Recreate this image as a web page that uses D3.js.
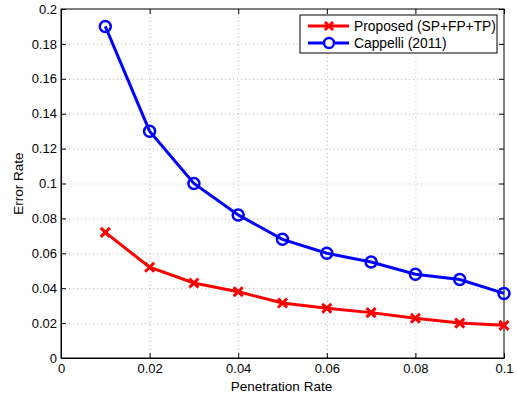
<html>
<head>
<script src="https://d3js.org/d3.v7.min.js"></script>
<style>
  body { margin: 0; background: #fff; }
  text { font-family: "Liberation Sans", Arial, sans-serif; }
  .grid line { stroke: #bbb; stroke-dasharray: 1,3; }
  .grid .domain { stroke: none; }
</style>
</head>
<body>
<svg id="chart" width="517" height="397"></svg>
<script>
const penetration = [0.01, 0.02, 0.03, 0.04, 0.05, 0.06, 0.07, 0.08, 0.09, 0.1];
const proposed = [0.072, 0.052, 0.043, 0.038, 0.0315, 0.0285, 0.026, 0.0228, 0.020, 0.0187];
const cappelli = [0.19, 0.13, 0.10, 0.082, 0.068, 0.060, 0.055, 0.048, 0.045, 0.037];
const xTicks = [0, 0.02, 0.04, 0.06, 0.08, 0.1];
const yTicks = [0, 0.02, 0.04, 0.06, 0.08, 0.1, 0.12, 0.14, 0.16, 0.18, 0.2];
const seriesNames = ["Proposed (SP+FP+TP)", "Cappelli (2011)"];

const svg = d3.select("#chart");
const margin = {top: 9, right: 13, bottom: 39, left: 61};
const w = 517 - margin.left - margin.right;
const h = 397 - margin.top - margin.bottom;

const x = d3.scaleLinear().domain([0, 0.1]).range([0, w]);
const y = d3.scaleLinear().domain([0, 0.2]).range([h, 0]);
const fmt = d => d3.format("")(+d.toFixed(2));

const g = svg.append("g").attr("transform", "translate(" + margin.left + "," + margin.top + ")");

// gridlines
g.append("g").attr("class", "grid")
  .call(d3.axisLeft(y).tickValues(yTicks.slice(1, -1)).tickSize(-w).tickFormat(""));
g.append("g").attr("class", "grid")
  .attr("transform", "translate(0," + h + ")")
  .call(d3.axisBottom(x).tickValues(xTicks.slice(1, -1)).tickSize(-h).tickFormat(""));

// box
g.append("rect").attr("width", w).attr("height", h)
  .attr("fill", "none").attr("stroke", "#000").attr("stroke-width", 1);

// axes with inward ticks
const ax = g.append("g").attr("transform", "translate(0," + h + ")")
  .call(d3.axisBottom(x).tickValues(xTicks).tickSizeInner(-5).tickSizeOuter(0).tickPadding(6).tickFormat(fmt));
const ay = g.append("g")
  .call(d3.axisLeft(y).tickValues(yTicks).tickSizeInner(-5).tickSizeOuter(0).tickPadding(4).tickFormat(fmt));
[ax, ay].forEach(a => {
  a.selectAll("text").attr("font-size", 13).attr("fill", "#000").style("font-family", "Liberation Sans, Arial, sans-serif");
  a.select(".domain").attr("stroke", "#000");
});
// top/right ticks
g.append("g").call(d3.axisTop(x).tickValues(xTicks).tickSizeInner(-5).tickSizeOuter(0).tickFormat(""))
  .select(".domain").remove();
g.append("g").attr("transform", "translate(" + w + ",0)")
  .call(d3.axisRight(y).tickValues(yTicks).tickSizeInner(-5).tickSizeOuter(0).tickFormat(""))
  .select(".domain").remove();

// axis labels
svg.append("text").attr("x", margin.left + w / 2 - 1).attr("y", 391)
  .attr("text-anchor", "middle").attr("font-size", 13.5).text("Penetration Rate");
svg.append("text").attr("transform", "translate(23," + (margin.top + h / 2) + ") rotate(-90)")
  .attr("text-anchor", "middle").attr("font-size", 13.5).text("Error Rate");

const line = d3.line().x((d, i) => x(penetration[i])).y(d => y(d));

// Proposed (red, x markers)
g.append("path").datum(proposed).attr("d", line)
  .attr("fill", "none").attr("stroke", "#f00").attr("stroke-width", 3);
const xMark = (sel, cx, cy, s) => sel.append("path")
  .attr("d", "M" + (cx - s) + "," + (cy - s) + "L" + (cx + s) + "," + (cy + s) + "M" + (cx - s) + "," + (cy + s) + "L" + (cx + s) + "," + (cy - s))
  .attr("stroke", "#f00").attr("stroke-width", 3).attr("fill", "none");
proposed.forEach((d, i) => xMark(g, x(penetration[i]), y(d), 4.5));

// Cappelli (blue, circles)
g.append("path").datum(cappelli).attr("d", line)
  .attr("fill", "none").attr("stroke", "#00f").attr("stroke-width", 3);
g.selectAll("circle.cap").data(cappelli).enter().append("circle")
  .attr("cx", (d, i) => x(penetration[i])).attr("cy", d => y(d)).attr("r", 5.5)
  .attr("fill", "none").attr("stroke", "#00f").attr("stroke-width", 2.5);

// legend
const lg = svg.append("g").attr("transform", "translate(300,15)");
lg.append("rect").attr("width", 197).attr("height", 38)
  .attr("fill", "#fff").attr("stroke", "#000").attr("stroke-width", 1);
[0, 1].forEach(i => {
  const ly = 11 + i * 17;
  const col = i === 0 ? "#f00" : "#00f";
  lg.append("line").attr("x1", 8).attr("x2", 49).attr("y1", ly).attr("y2", ly)
    .attr("stroke", col).attr("stroke-width", 3);
  if (i === 0) xMark(lg, 29, ly, 4);
  else lg.append("circle").attr("cx", 29).attr("cy", ly).attr("r", 5)
    .attr("fill", "#fff").attr("stroke", col).attr("stroke-width", 2.5);
  lg.append("text").attr("x", 54).attr("y", ly + 5).attr("font-size", 13.8).text(seriesNames[i]);
});
</script>
</body>
</html>
